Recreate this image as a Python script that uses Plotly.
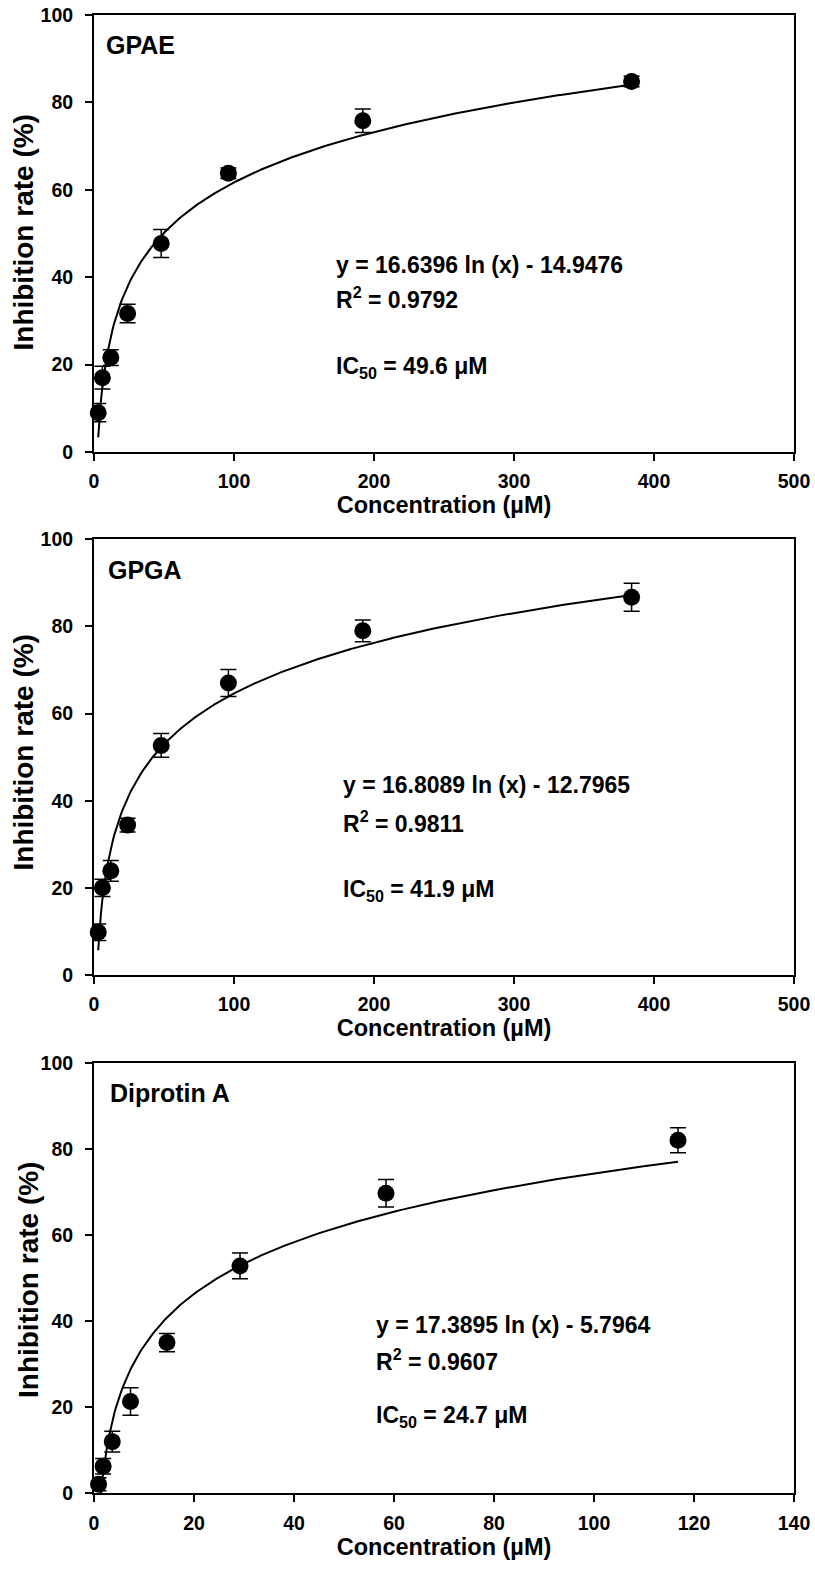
import numpy as np
import plotly.graph_objects as go

# ---------------- data ----------------
gpae_conc = [3, 6, 12, 24, 48, 96, 192, 384]
gpae_inh = [9.0, 17.0, 21.6, 31.7, 47.7, 63.8, 75.8, 84.8]
gpae_err = [2.1, 2.6, 1.8, 2.1, 3.2, 1.2, 2.7, 1.2]
gpae_fit = (16.6396, -14.9476)

gpga_conc = [3, 6, 12, 24, 48, 96, 192, 384]
gpga_inh = [9.8, 20.0, 23.9, 34.4, 52.7, 67.0, 79.0, 86.7]
gpga_err = [1.9, 2.0, 2.4, 1.6, 2.7, 3.1, 2.5, 3.2]
gpga_fit = (16.8089, -12.7965)

dipa_conc = [0.91, 1.83, 3.65, 7.3, 14.6, 29.2, 58.4, 116.8]
dipa_inh = [2.1, 6.3, 12.0, 21.3, 35.0, 52.8, 69.7, 82.0]
dipa_err = [1.5, 1.8, 2.4, 3.2, 2.1, 3.0, 3.2, 2.9]
dipa_fit = (17.3895, -5.7964)

panel_labels = ["GPAE", "GPGA", "Diprotin A"]
eq_texts = ["y = 16.6396 ln (x) - 14.9476", "y = 16.8089 ln (x) - 12.7965", "y = 17.3895 ln (x) - 5.7964"]
r2_texts = ["R<sup>2</sup> = 0.9792", "R<sup>2</sup> = 0.9811", "R<sup>2</sup> = 0.9607"]
ic50_texts = ["IC<sub>50</sub> = 49.6 μM", "IC<sub>50</sub> = 41.9 μM", "IC<sub>50</sub> = 24.7 μM"]
x_title = "Concentration (µM)"
y_title = "Inhibition rate (%)"
x_ranges = [[0, 500], [0, 500], [0, 140]]
x_dticks = [100, 100, 20]
y_ticks = [0, 20, 40, 60, 80, 100]

# ---------------- layout constants (pixels) ----------------
W, H = 815, 1570
FONT = "Liberation Sans, Arial, Helvetica, sans-serif"


def px_x(p):
    return p / W


def px_y(p):
    return 1 - p / H


x_dom = [px_x(94), px_x(794)]
y_doms = [[px_y(452), px_y(15)], [px_y(975), px_y(539.3)], [px_y(1493.3), px_y(1062.7)]]
ytitle_pos = [(23, 232.5), (23, 752.5), (28, 1280)]
label_pos = [(104, 45), (106, 570), (108.3, 1093.3)]
text_pos = [(334, 265, 298, 367), (340.7, 785, 821.7, 890), (374, 1325, 1360, 1416.7)]

datasets = [
    (gpae_conc, gpae_inh, gpae_err, gpae_fit),
    (gpga_conc, gpga_inh, gpga_err, gpga_fit),
    (dipa_conc, dipa_inh, dipa_err, dipa_fit),
]

fig = go.Figure()
annotations = []
for i, (cx, cy, ce, (a, b)) in enumerate(datasets):
    xa = "x" if i == 0 else f"x{i+1}"
    ya = "y" if i == 0 else f"y{i+1}"
    xf = np.linspace(cx[0], cx[-1], 400)
    yf = a * np.log(xf) + b
    fig.add_trace(go.Scatter(x=xf, y=yf, mode="lines", line=dict(color="black", width=2),
                             xaxis=xa, yaxis=ya, showlegend=False, hoverinfo="skip"))
    fig.add_trace(go.Scatter(x=cx, y=cy, mode="markers",
                             marker=dict(color="black", size=17, symbol="circle"),
                             error_y=dict(type="data", array=ce, visible=True, color="black",
                                          thickness=1.5, width=8),
                             xaxis=xa, yaxis=ya, showlegend=False, cliponaxis=False))
    axis_common = dict(showline=True, linecolor="black", linewidth=2, mirror=True,
                       ticks="outside", ticklen=7, tickwidth=2, tickcolor="black",
                       showgrid=False, zeroline=False, automargin=False,
                       ticklabeloverflow="allow",
                       tickfont=dict(family=FONT, size=19.5, color="black", weight="bold"))
    fig.layout[("xaxis" if i == 0 else f"xaxis{i+1}")] = dict(
        domain=x_dom, anchor=ya, range=x_ranges[i], tick0=0, dtick=x_dticks[i],
        ticklabelstandoff=4,
        title=dict(text=x_title, standoff=5,
                   font=dict(family=FONT, size=23.5, color="black", weight="bold")),
        **axis_common)
    fig.layout[("yaxis" if i == 0 else f"yaxis{i+1}")] = dict(
        domain=y_doms[i], anchor=xa, range=[0, 100], tickvals=y_ticks,
        ticklabelstandoff=8, **axis_common)
    # y-axis title
    tx0, ty0 = ytitle_pos[i]
    annotations.append(dict(x=px_x(tx0), y=px_y(ty0), xref="paper", yref="paper",
                            text=y_title, textangle=-90, showarrow=False,
                            xanchor="center", yanchor="middle",
                            font=dict(family=FONT, size=28, color="black", weight="bold")))
    lx, ly = label_pos[i]
    annotations.append(dict(x=px_x(lx), y=px_y(ly), xref="paper", yref="paper",
                            text=panel_labels[i], showarrow=False,
                            xanchor="left", yanchor="middle",
                            font=dict(family=FONT, size=25, color="black", weight="bold")))
    tx, ey, ry, iy = text_pos[i]
    for txt, yy in ((eq_texts[i], ey), (r2_texts[i], ry), (ic50_texts[i], iy)):
        annotations.append(dict(x=px_x(tx), y=px_y(yy), xref="paper", yref="paper",
                                text=txt, showarrow=False, xanchor="left", yanchor="middle",
                                font=dict(family=FONT, size=23, color="black", weight="bold")))

fig.update_layout(width=W, height=H, margin=dict(l=0, r=0, t=0, b=0, autoexpand=False),
                  paper_bgcolor="white", plot_bgcolor="white",
                  annotations=annotations, showlegend=False)
fig.write_html("out.html", config={"displayModeBar": False},
               post_script="document.body.style.margin='0';")
